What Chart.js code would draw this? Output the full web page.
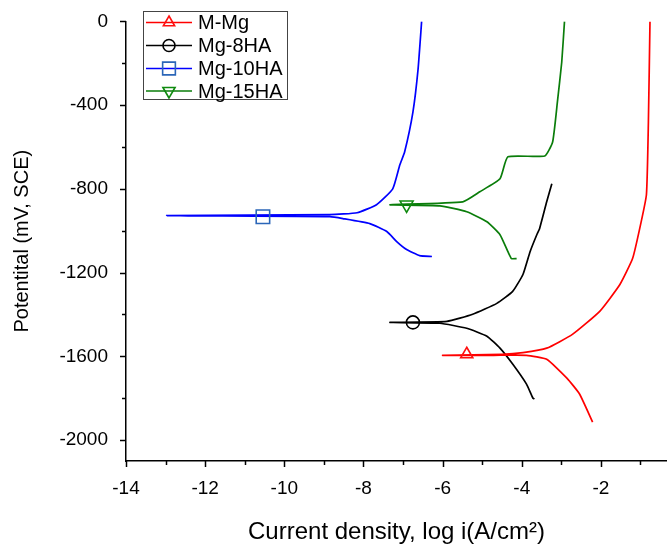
<!DOCTYPE html>
<html>
<head>
<meta charset="utf-8">
<script src="https://cdn.jsdelivr.net/npm/chart.js@4.4.0/dist/chart.umd.min.js"></script>
<style>
  html, body { margin: 0; padding: 0; background: #fff; }
  #wrap { width: 667px; height: 547px; position: relative; }
</style>
</head>
<body>
<div id="wrap"><canvas id="chart"></canvas></div>
<script>
// polarization curves, log i (A/cm2) vs potential (mV, SCE)
const seriesNames = ['M-Mg', 'Mg-8HA', 'Mg-10HA', 'Mg-15HA'];

const mMgLogI = [-2.21, -2.54, -2.86, -3.37, -3.88, -4.71, -6.00, -4.50, -3.97, -3.37, -2.72, -2.03, -1.52, -1.20, -1.02, -0.85, -0.80, -0.76];
const mMgPot  = [-1914, -1780, -1704, -1614, -1595, -1595, -1595, -1590, -1582, -1561, -1495, -1385, -1257, -1133, -990, -828, -481, 0];

const mg8LogI = [-3.68, -3.72, -3.88, -4.23, -4.55, -4.88, -5.39, -6.07, -7.33, -5.89, -5.24, -4.63, -4.23, -3.97, -3.79, -3.62, -3.55, -3.37, -3.24];
const mg8Pot  = [-1804, -1799, -1733, -1637, -1561, -1504, -1466, -1442, -1438, -1433, -1399, -1347, -1290, -1209, -1100, -1019, -990, -862, -776];

const mg10LogI = [-6.27, -6.58, -6.91, -7.16, -7.41, -7.84, -8.52, -8.85, -12.97, -8.85, -8.16, -7.67, -7.26, -7.08, -6.96, -6.75, -6.62, -6.53];
const mg10Pot  = [-1123, -1119, -1090, -1052, -1004, -966, -942, -933, -928, -923, -914, -876, -800, -685, -624, -433, -228, 0];

const mg15LogI = [-4.13, -4.26, -4.35, -4.55, -4.88, -5.39, -6.07, -7.33, -5.49, -5.06, -4.55, -4.35, -3.42, -3.22, -3.10, -2.99, -2.92];
const mg15Pot  = [-1133, -1133, -1100, -1019, -957, -909, -881, -876, -862, -814, -752, -647, -643, -576, -386, -195, 0];

// one symbol per curve
const markerLogI = [-5.39, -6.75, -10.54, -6.91];
const markerPot  = [-1590, -1438, -933, -876];

const xTicks = [-14, -12, -10, -8, -6, -4, -2];
const yTicks = [-2000, -1600, -1200, -800, -400, 0];

const lineColors   = ['#ff0000', '#000000', '#0000ff', '#0a7d0a'];
const markerColors = ['#ff1010', '#000000', '#2b66b8', '#0f8a0f'];
const markerShapes = ['triangle', 'circle', 'rect', 'triangle'];
const markerRot    = [0, 0, 0, 180];
const markerSize   = [7, 6.5, 9.5, 7.5];

const curves = [
  [mMgLogI, mMgPot],
  [mg8LogI, mg8Pot],
  [mg10LogI, mg10Pot],
  [mg15LogI, mg15Pot]
];

const FONT = '"Liberation Sans", Arial, sans-serif';

function toPoints(xs, ys) {
  return xs.map((v, i) => ({ x: v, y: ys[i] }));
}

const datasets = [];
curves.forEach((c, i) => {
  datasets.push({
    label: seriesNames[i],
    data: toPoints(c[0], c[1]),
    showLine: true,
    borderColor: lineColors[i],
    borderWidth: 1.7,
    pointRadius: 0,
    tension: 0.15,
    order: 2
  });
});
seriesNames.forEach((n, i) => {
  datasets.push({
    label: n + ' marker',
    data: [{ x: markerLogI[i], y: markerPot[i] }],
    showLine: false,
    pointStyle: markerShapes[i],
    rotation: markerRot[i],
    pointRadius: markerSize[i],
    pointBorderWidth: 1.6,
    pointBorderColor: markerColors[i],
    pointBackgroundColor: 'rgba(255,255,255,0)',
    order: 1
  });
});

// short minor ticks + major ticks, drawn outward like the original
const ticksPlugin = {
  id: 'ticksPlugin',
  afterDraw(chart) {
    const { ctx, scales } = chart;
    const xs = scales.x, ys = scales.y;
    ctx.save();
    ctx.strokeStyle = '#000';
    ctx.lineWidth = 1.5;
    const drawX = (v, len) => {
      const px = Math.round(xs.getPixelForValue(v)) + 0.5;
      ctx.beginPath(); ctx.moveTo(px, xs.top); ctx.lineTo(px, xs.top + len); ctx.stroke();
    };
    const drawY = (v, len) => {
      const py = Math.round(ys.getPixelForValue(v)) + 0.5;
      ctx.beginPath(); ctx.moveTo(ys.right, py); ctx.lineTo(ys.right - len, py); ctx.stroke();
    };
    xTicks.forEach(v => {
      drawX(v, 6);
      if (v + 1 < xs.max) drawX(v + 1, 4);
    });
    yTicks.forEach(v => {
      drawY(v, 6);
      if (v - 200 > ys.min) drawY(v - 200, 4);
    });
    ctx.restore();
  }
};

// boxed legend in the upper left of the plot
const legendPlugin = {
  id: 'boxLegend',
  afterDraw(chart) {
    const ctx = chart.ctx;
    const left = 143, top = 11, w = 144, h = 88;
    const rowY = [22.5, 45.5, 68.5, 91];
    ctx.save();
    ctx.strokeStyle = '#444';
    ctx.lineWidth = 1;
    ctx.strokeRect(left + 0.5, top + 0.5, w, h);
    ctx.font = '20px ' + FONT;
    ctx.textBaseline = 'middle';
    seriesNames.forEach((n, i) => {
      const y = rowY[i];
      ctx.strokeStyle = lineColors[i];
      ctx.lineWidth = 1.7;
      ctx.beginPath(); ctx.moveTo(146, y); ctx.lineTo(192, y); ctx.stroke();
      ctx.lineWidth = 1.6;
      ctx.strokeStyle = markerColors[i];
      ctx.fillStyle = 'rgba(255,255,255,0)';
      Chart.helpers.drawPoint(ctx, {
        pointStyle: markerShapes[i],
        rotation: markerRot[i],
        radius: markerSize[i] - 0.5,
        borderWidth: 1.6
      }, 169, y);
      ctx.fillStyle = '#000';
      ctx.fillText(n, 198, y + 1);
    });
    ctx.restore();
  }
};

new Chart(document.getElementById('chart').getContext('2d'), {
  type: 'scatter',
  data: { datasets: datasets },
  options: {
    responsive: true,
    maintainAspectRatio: false,
    animation: false,
    layout: { autoPadding: false, padding: { top: 19, right: 0, left: 0, bottom: 0 } },
    plugins: { legend: { display: false }, tooltip: { enabled: false } },
    scales: {
      x: {
        type: 'linear',
        min: -14,
        max: -0.33,
        afterBuildTicks: s => { s.ticks = xTicks.map(v => ({ value: v })); },
        afterFit: s => { s.height = 86; },
        grid: { display: false },
        border: { display: true, color: '#000', width: 1.5 },
        ticks: { color: '#000', padding: 8, maxRotation: 0, font: { family: FONT, size: 19 }, callback: v => String(v) },
        title: {
          display: true,
          text: 'Current density, log i(A/cm\u00B2)',
          color: '#000',
          font: { family: FONT, size: 24 },
          padding: { top: 5, bottom: 0 }
        }
      },
      y: {
        type: 'linear',
        min: -2100,
        max: 0,
        afterBuildTicks: s => { s.ticks = yTicks.map(v => ({ value: v })); },
        afterFit: s => { s.width = 126; },
        grid: { display: false },
        border: { display: true, color: '#000', width: 1.5 },
        ticks: { color: '#000', padding: 10, font: { family: FONT, size: 19 }, callback: v => String(v) },
        title: {
          display: true,
          text: 'Potentital (mV, SCE)',
          color: '#000',
          font: { family: FONT, size: 20 },
          padding: { top: 10, bottom: 0 }
        }
      }
    }
  },
  plugins: [ticksPlugin, legendPlugin]
});
</script>
</body>
</html>
